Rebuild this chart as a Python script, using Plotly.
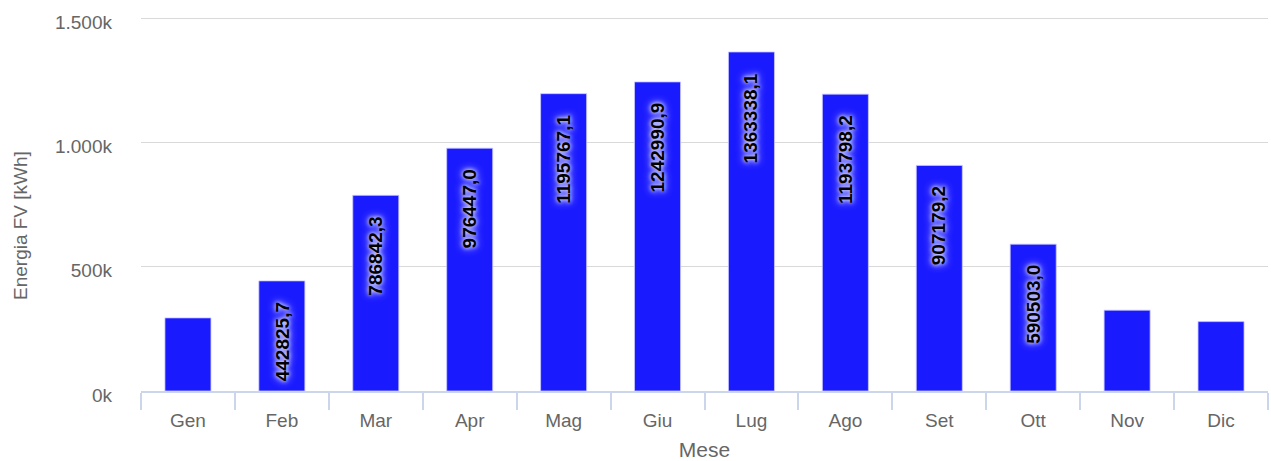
import plotly.graph_objects as go

# Monthly PV energy production
months = ["Gen", "Feb", "Mar", "Apr", "Mag", "Giu", "Lug", "Ago", "Set", "Ott", "Nov", "Dic"]
energy_kwh = [294000, 442825.7, 786842.3, 976447.0, 1195767.1, 1242990.9,
              1363338.1, 1193798.2, 907179.2, 590503.0, 325000, 279000]
# which bars carry a value label
show_label = [False, True, True, True, True, True, True, True, True, True, False, False]

y_tickvals = [0, 500000, 1000000, 1500000]
y_ticktext = ["0k", "500k", "1.000k", "1.500k"]

W, H = 1271, 461
M_L, M_R, M_T, M_B = 141, 3, 14, 70
plot_w = W - M_L - M_R
plot_h = H - M_T - M_B
y_top = 1500000 * plot_h / (plot_h - 4)  # leaves room for the top gridline

fig = go.Figure()
fig.add_trace(go.Bar(
    x=months,
    y=energy_kwh,
    marker=dict(color="#1a1aff", line=dict(color="rgba(200,200,255,0.8)", width=1)),
    hoverinfo="x+y",
))

# rotated value labels just below the top of each bar
annotations = []
for m, v, s in zip(months, energy_kwh, show_label):
    if not s:
        continue
    annotations.append(dict(
        x=m, y=v, xref="x", yref="y",
        text=f"{v:.1f}".replace(".", ","),
        textangle=-90,
        showarrow=False,
        xanchor="center", yanchor="top",
        yshift=-19,
        font=dict(family="Liberation Sans, Arial, sans-serif", size=19, color="#000000",
                  weight="bold",
                  shadow="0px 0px 4px #ffffff, 0px 0px 8px #ffffff"),
    ))

# y-axis title
annotations.append(dict(
    x=(20 - M_L) / plot_w, y=(plot_h - (225 - M_T)) / plot_h,
    xref="paper", yref="paper",
    text="Energia FV [kWh]", textangle=-90, showarrow=False,
    xanchor="center", yanchor="middle",
    font=dict(family="Liberation Sans, Arial, sans-serif", size=19, color="#666666"),
))

fig.update_layout(
    width=W, height=H,
    margin=dict(l=M_L, r=M_R, t=M_T, b=M_B),
    paper_bgcolor="#ffffff", plot_bgcolor="#ffffff",
    bargap=0.51,
    showlegend=False,
    annotations=annotations,
    font=dict(family="Liberation Sans, Arial, sans-serif", color="#666666"),
)

fig.update_xaxes(
    type="category",
    showline=True, linecolor="#ccd6eb", linewidth=1.5,
    ticks="outside", tickson="boundaries", ticklen=17, tickcolor="#ccd6eb", tickwidth=1.5,
    tickfont=dict(size=19, color="#666666"),
    ticklabelstandoff=11,
    title=dict(text="Mese", font=dict(size=21, color="#666666"), standoff=13),
    showgrid=False, zeroline=False,
)

fig.update_yaxes(
    range=[0, y_top],
    tickvals=y_tickvals, ticktext=y_ticktext,
    tickfont=dict(size=19, color="#666666"),
    ticklabelstandoff=28, ticklabelshift=4,
    showgrid=True, gridcolor="#d9d9d9", gridwidth=1,
    zeroline=False, showline=False,
)

fig.write_html("out.html")
